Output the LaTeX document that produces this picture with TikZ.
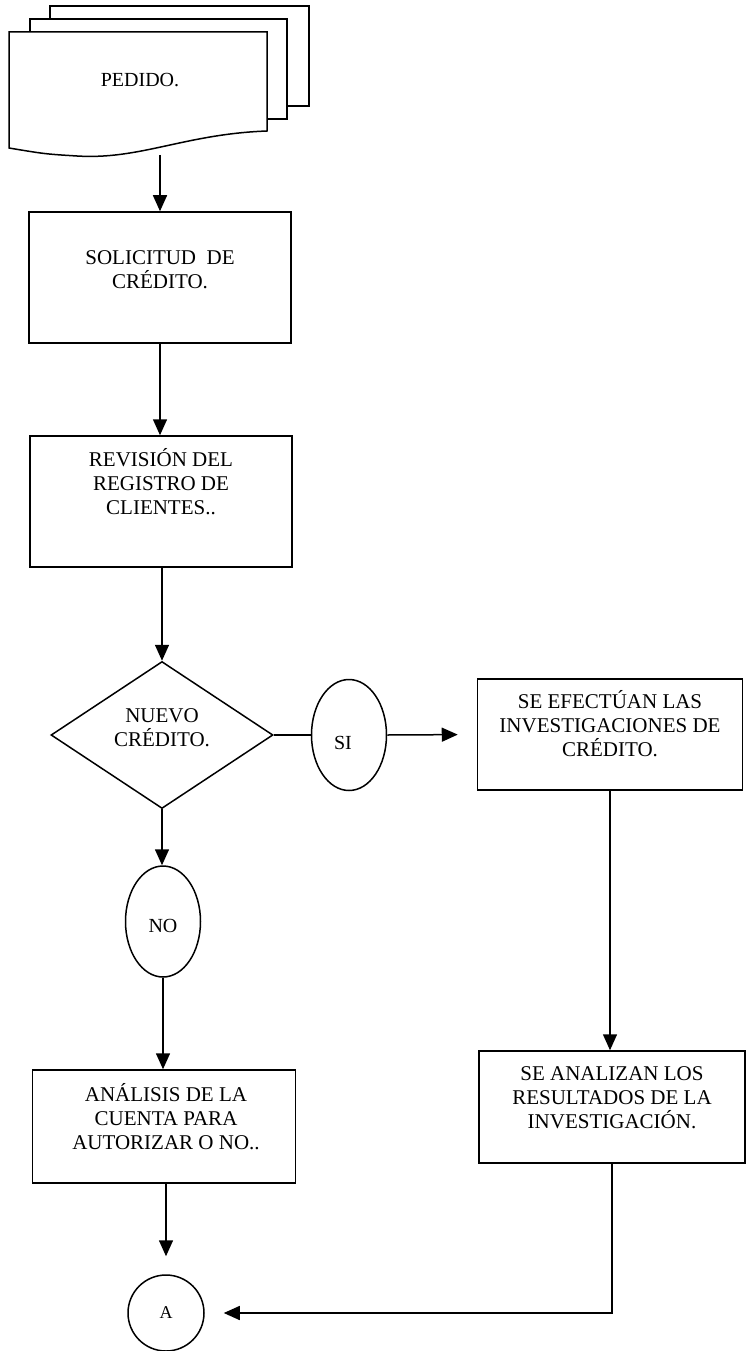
\documentclass[tikz,border=0pt]{standalone}
\usepackage{fontspec}
\setmainfont{Liberation Serif}
\usetikzlibrary{arrows.meta,shapes.geometric}

\begin{document}
\begin{tikzpicture}[x=1pt,y=-1pt,
  every path/.style={line width=1.5pt},
  flow/.style={-{Triangle[length=16pt,width=14pt]}},
  txt/.style={align=center,inner sep=0pt,font=\fontsize{21}{24}\selectfont},
  procbox/.style={draw,rectangle,inner sep=0pt},
  conn/.style={draw,ellipse,inner sep=0pt,minimum width=75pt,minimum height=111pt,font=\fontsize{20}{24}\selectfont},
]
\useasboundingbox (0,0) rectangle (748,1351);

% stacked documents: back, middle, front sheet with wavy lower edge
\draw[fill=white] (50,6) rectangle (309,106);
\draw[fill=white] (30,19) rectangle (287,119);
\draw[fill=white] (9,32) -- (267,32) -- (267,131)
  .. controls (185,134) and (140,160) .. (77,156)
  .. controls (45,154) .. (9,148) -- cycle;
\node[txt,font=\fontsize{20}{24}\selectfont] (pedido) at (140,80) {PEDIDO.};
\coordinate (docout) at (160,155);

% process boxes
\node[procbox,minimum width=262pt,minimum height=131pt] (b1) at (160,277.5) {};
\node[txt] (t1) at (160,270) {SOLICITUD\ \ DE\\CRÉDITO.};

\node[procbox,minimum width=262pt,minimum height=131pt] (b2) at (161,501.5) {};
\node[txt] (t2) at (161,482) {REVISIÓN DEL\\REGISTRO DE\\CLIENTES..};

% decision
\node[draw,diamond,inner sep=0pt,minimum width=222pt,minimum height=147pt] (dia) at (162,735) {};
\node[txt] (td) at (162,728) {NUEVO\\CRÉDITO.};

\node[conn] (si) at (349,735) {};
\node[txt,font=\fontsize{20}{24}\selectfont] (tsi) at (343,743) {SI};

\node[conn] (no) at (163,921.5) {};
\node[txt,font=\fontsize{20}{24}\selectfont] (tno) at (163,926) {NO};

\node[procbox,minimum width=265pt,minimum height=111pt] (b3) at (610,734.5) {};
\node[txt] (t3) at (610,724) {SE EFECTÚAN LAS\\INVESTIGACIONES DE\\CRÉDITO.};

\node[procbox,minimum width=266pt,minimum height=112pt] (b4) at (612,1107) {};
\node[txt] (t4) at (612,1098) {SE ANALIZAN LOS\\RESULTADOS DE LA\\INVESTIGACIÓN.};

\node[procbox,minimum width=263pt,minimum height=113pt] (b5) at (164,1126.5) {};
\node[txt] (t5) at (166,1117) {ANÁLISIS DE LA\\CUENTA PARA\\AUTORIZAR O NO..};

% off-page connector
\node[draw,circle,inner sep=0pt,minimum size=76pt,font=\fontsize{18}{22}\selectfont] (a) at (166,1313) {A};

% connectors
\draw[flow] (docout) -- (docout |- b1.north);
\draw[flow] (b1.south) -- (b1.south |- b2.north);
\draw[flow] (dia.north |- b2.south) -- (dia.north);
\draw (dia.east) -- (si.west);
\draw[flow,shorten >=19pt] (si.east) -- (b3.west);
\draw[flow] (b3.south) -- (b3.south |- b4.north);
\draw[flow] (dia.south) -- (dia.south |- no.north);
\draw[flow] (no.south) -- (no.south |- b5.north);
\draw[flow,shorten >=18pt] (a.north |- b5.south) -- (a.north);
\draw[flow,shorten >=19pt] (b4.south) |- (a.east);
\end{tikzpicture}
\end{document}
